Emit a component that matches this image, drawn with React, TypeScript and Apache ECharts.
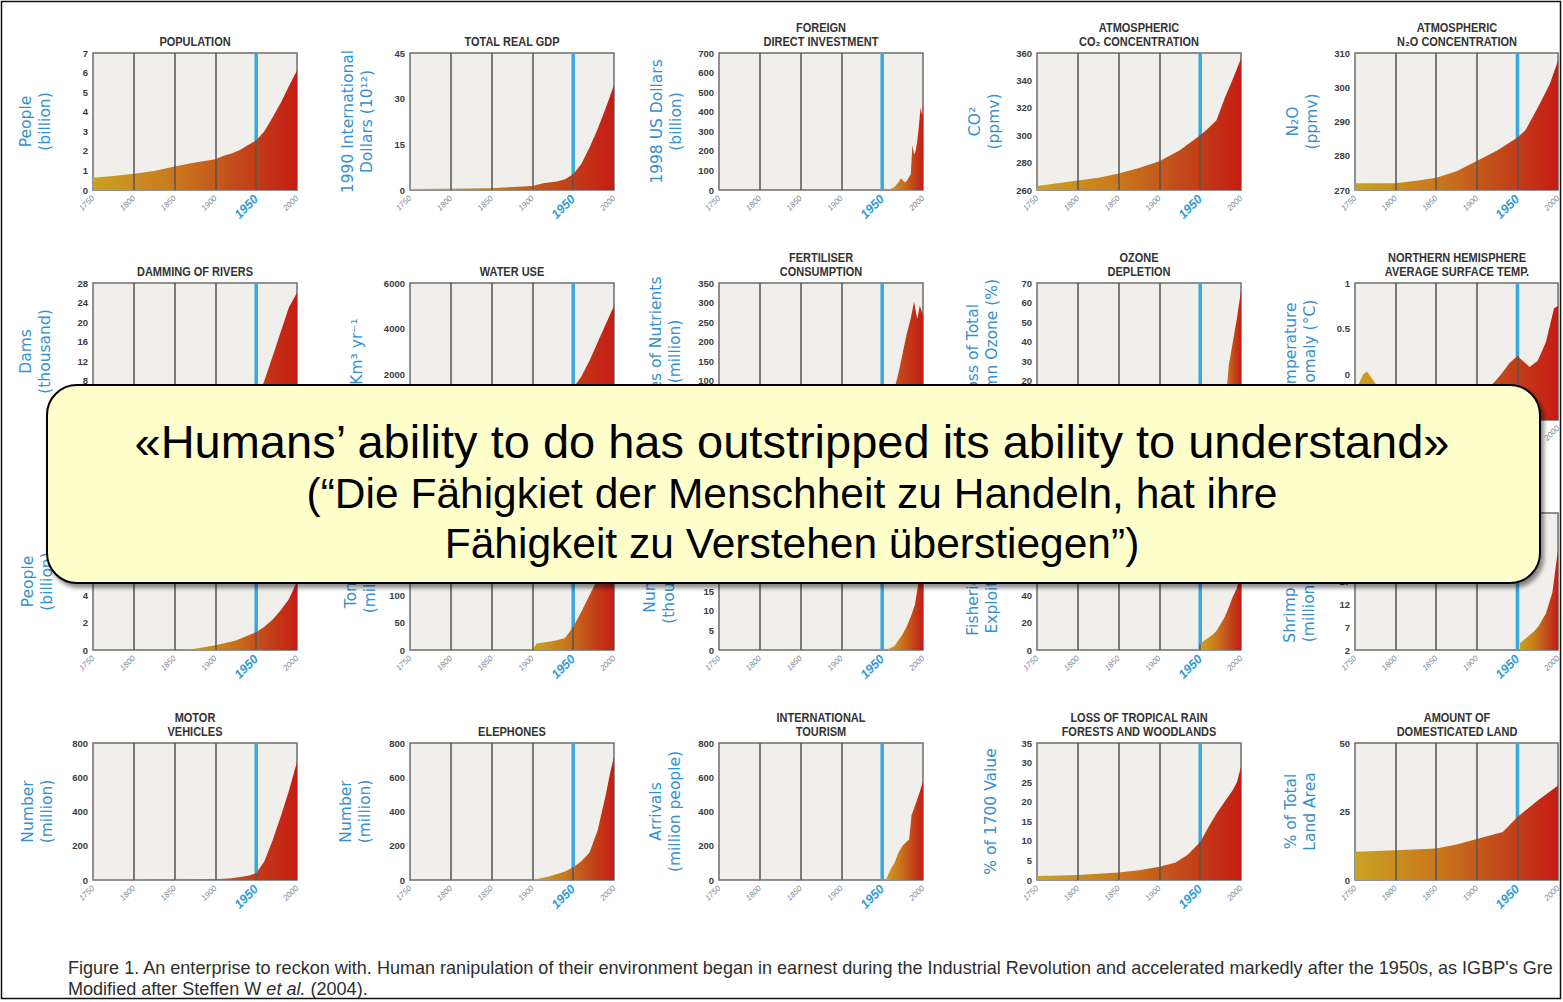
import React, { useEffect, useRef } from "react";
import * as echarts from "echarts";

// ---------- data ----------
const populationYears = [1750, 1775, 1800, 1825, 1850, 1875, 1900, 1910, 1920, 1930, 1940, 1950, 1960, 1970, 1980, 1990, 2000];
const populationValues = [0.62, 0.72, 0.83, 0.97, 1.2, 1.4, 1.57, 1.75, 1.86, 2.05, 2.3, 2.53, 3.0, 3.7, 4.45, 5.3, 6.1];

const gdpYears = [1750, 1800, 1850, 1870, 1900, 1913, 1930, 1940, 1950, 1960, 1970, 1980, 1990, 2000];
const gdpValues = [0.3, 0.4, 0.6, 0.9, 1.3, 2.2, 2.8, 3.5, 5.2, 8.5, 14, 20, 27, 34.5];

const fdiYears = [1955, 1960, 1965, 1970, 1973, 1976, 1979, 1982, 1985, 1987, 1989, 1991, 1993, 1995, 1997, 1999, 2000];
const fdiValues = [0, 5, 15, 40, 60, 45, 40, 60, 80, 230, 180, 200, 250, 330, 420, 380, 440];

const co2Years = [1750, 1775, 1800, 1825, 1850, 1875, 1900, 1925, 1950, 1960, 1970, 1980, 1990, 2000];
const co2Values = [263, 265, 267, 269, 272, 276, 281, 289, 300, 305, 311, 327, 341, 356];

const n2oYears = [1750, 1800, 1825, 1850, 1875, 1900, 1925, 1950, 1960, 1975, 1990, 2000];
const n2oValues = [272, 272, 272.7, 273.6, 275.5, 278.5, 281.5, 285.3, 287.5, 294, 301, 307.8];

const damsYears = [1750, 1850, 1900, 1930, 1950, 1960, 1970, 1980, 1990, 2000];
const damsValues = [0, 0.1, 0.5, 1.5, 4, 8, 13, 18, 23, 26];

const waterYears = [1750, 1800, 1850, 1900, 1925, 1950, 1960, 1970, 1980, 1990, 2000];
const waterValues = [100, 150, 250, 500, 850, 1400, 1900, 2600, 3400, 4200, 5000];

const fertiliserYears = [1900, 1920, 1940, 1950, 1955, 1960, 1965, 1970, 1975, 1980, 1985, 1989, 1991, 1993, 1996, 2000];
const fertiliserValues = [0, 2, 5, 14, 20, 30, 80, 120, 170, 220, 260, 302, 280, 258, 292, 268];

const ozoneYears = [1970, 1975, 1980, 1983, 1985, 1990, 1995, 2000];
const ozoneValues = [0, 0, 5, 18, 28, 40, 52, 66];

const tempYears = [1750, 1760, 1765, 1775, 1800, 1825, 1850, 1875, 1900, 1920, 1930, 1940, 1950, 1960, 1965, 1975, 1985, 1995, 2000];
const tempValues = [-0.2, 0.0, 0.03, -0.1, -0.25, -0.3, -0.2, -0.25, -0.2, -0.1, 0.0, 0.12, 0.2, 0.12, 0.08, 0.15, 0.35, 0.72, 0.75];

const urbanYears = [1860, 1875, 1900, 1925, 1950, 1960, 1970, 1980, 1990, 2000];
const urbanValues = [0, 0.1, 0.35, 0.7, 1.3, 1.7, 2.2, 2.9, 3.7, 5.0];

const paperYears = [1900, 1905, 1920, 1930, 1940, 1950, 1960, 1970, 1980, 1990, 2000];
const paperValues = [0, 12, 15, 18, 22, 42, 70, 100, 130, 180, 230];

const restaurantYears = [1955, 1960, 1965, 1970, 1975, 1980, 1985, 1990, 1995, 2000];
const restaurantValues = [0, 0.5, 1, 2.5, 4, 6, 8.5, 11.5, 18, 28];

const fisheriesYears = [1950, 1955, 1960, 1965, 1970, 1975, 1980, 1985, 1990, 1995, 2000];
const fisheriesValues = [4, 7, 9, 11, 14, 19, 24, 31, 39, 45, 58];

const shrimpYears = [1953, 1960, 1970, 1976, 1985, 1993, 1997, 2000];
const shrimpValues = [3.5, 4.5, 6, 7.2, 10, 14.6, 20, 24];

const motorYears = [1750, 1800, 1850, 1900, 1920, 1930, 1940, 1950, 1960, 1970, 1980, 1990, 2000];
const motorValues = [2, 3, 4, 5, 10, 18, 25, 40, 110, 230, 370, 520, 690];

const phoneYears = [1900, 1910, 1920, 1930, 1940, 1950, 1960, 1970, 1980, 1990, 1995, 2000];
const phoneValues = [2, 10, 20, 35, 50, 75, 110, 160, 290, 500, 620, 720];

const tourismYears = [1952, 1955, 1960, 1965, 1970, 1975, 1980, 1983, 1986, 1990, 1995, 2000];
const tourismValues = [0, 5, 60, 100, 160, 200, 225, 235, 380, 430, 500, 575];

const forestYears = [1750, 1800, 1850, 1875, 1900, 1920, 1935, 1950, 1960, 1970, 1980, 1990, 1995, 2000];
const forestValues = [1.0, 1.3, 1.9, 2.5, 3.4, 4.5, 6.5, 9.7, 13.5, 17, 20, 23, 25, 29];

const landYears = [1750, 1800, 1850, 1875, 1900, 1932, 1950, 1975, 2000];
const landValues = [10.3, 10.9, 11.5, 13, 15, 17.5, 23, 29, 34.5];

const panelTitles = [
  "POPULATION", "TOTAL REAL GDP", "FOREIGN\nDIRECT INVESTMENT", "ATMOSPHERIC\nCO₂ CONCENTRATION", "ATMOSPHERIC\nN₂O CONCENTRATION",
  "DAMMING OF RIVERS", "WATER USE", "FERTILISER\nCONSUMPTION", "OZONE\nDEPLETION", "NORTHERN HEMISPHERE\nAVERAGE SURFACE TEMP.",
  "URBAN POPULATION", "PAPER CONSUMPTION", "McDONALD'S\nRESTAURANTS", "FULLY EXPLOITED\nFISHERIES", "SHRIMP FARMING",
  "MOTOR\nVEHICLES", "ELEPHONES", "INTERNATIONAL\nTOURISM", "LOSS OF TROPICAL RAIN\nFORESTS AND WOODLANDS", "AMOUNT OF\nDOMESTICATED LAND",
];

const axisNames = [
  "People\n(billion)", "1990 International\nDollars (10¹²)", "1998 US Dollars\n(billion)", "CO²\n(ppmv)", "N₂O\n(ppmv)",
  "Dams\n(thousand)", "Km³ yr⁻¹", "Tonnes of Nutrients\n(million)", "Loss of Total\nColumn Ozone (%)", "Temperature\nAnomaly (°C)",
  "People\n(billion)", "Tonnes\n(million)", "Number\n(thousand)", "Fisheries Fully\nExploited (%)", "Shrimp Farming\n(million tonnes)",
  "Number\n(million)", "Number\n(million)", "Arrivals\n(million people)", "% of 1700 Value", "% of Total\nLand Area",
];

const yMins = [0, 0, 0, 260, 270, 0, 0, 0, 0, -0.5, 0, 0, 0, 0, 2, 0, 0, 0, 0, 0];
const yMaxs = [7, 45, 700, 360, 310, 28, 6000, 350, 70, 1, 10, 250, 35, 100, 32, 800, 800, 800, 35, 50];
const yIntervals = [1, 15, 100, 20, 10, 4, 2000, 50, 10, 0.5, 2, 50, 5, 20, 5, 200, 200, 200, 5, 25];

const calloutLines = [
  "«Humans’ ability to do has outstripped its ability to understand»",
  "(“Die Fähigkiet der Menschheit zu Handeln, hat ihre",
  "Fähigkeit zu Verstehen überstiegen”)",
];
const captionLine1 =
  "Figure 1. An enterprise to reckon with. Human ranipulation of their environment began in earnest during the Industrial Revolution and accelerated markedly after the 1950s, as IGBP's Gre";
const captionLine2 = ["Modified after Steffen W ", "et al.", " (2004)."];

const seriesYears = [
  populationYears, gdpYears, fdiYears, co2Years, n2oYears,
  damsYears, waterYears, fertiliserYears, ozoneYears, tempYears,
  urbanYears, paperYears, restaurantYears, fisheriesYears, shrimpYears,
  motorYears, phoneYears, tourismYears, forestYears, landYears,
];
const seriesValues = [
  populationValues, gdpValues, fdiValues, co2Values, n2oValues,
  damsValues, waterValues, fertiliserValues, ozoneValues, tempValues,
  urbanValues, paperValues, restaurantValues, fisheriesValues, shrimpValues,
  motorValues, phoneValues, tourismValues, forestValues, landValues,
];

// ---------- layout ----------
const colLefts = [93, 410, 719, 1037, 1355];
const rowTops = [53, 283, 513, 743];
const plotW = 204;
const plotH = 137;
const nameCenters = [58, 53, 53, 53, 53, 58, 53, 54, 55, 55, 56, 50, 60, 55, 56, 56, 55, 54, 46, 55];
const BOX = { x: 47, y: 385, w: 1493, h: 198 };

const SANS = '"Liberation Sans", Arial, sans-serif';
const VERDANA = '"DejaVu Sans", Verdana, sans-serif';

function valueAt(xs: number[], ys: number[], x: number): number {
  if (x < xs[0] || x > xs[xs.length - 1]) return NaN;
  for (let i = 1; i < xs.length; i++) {
    if (x <= xs[i]) {
      const t = (x - xs[i - 1]) / (xs[i] - xs[i - 1]);
      return ys[i - 1] + t * (ys[i] - ys[i - 1]);
    }
  }
  return ys[0];
}

function measure(text: string, font: string): number {
  const ctx = document.createElement("canvas").getContext("2d");
  if (!ctx) return text.length * 8;
  ctx.font = font;
  return ctx.measureText(text).width;
}

function underBox(px: number, py: number): boolean {
  return px > BOX.x && px < BOX.x + BOX.w && py > BOX.y + 2 && py < BOX.y + BOX.h - 2;
}

export default function App() {
  const ref = useRef<HTMLDivElement>(null);

  useEffect(() => {
    const chart = echarts.init(ref.current!, null, { renderer: "svg" });
    const grid: any[] = [];
    const xAxis: any[] = [];
    const yAxis: any[] = [];
    const series: any[] = [];
    const graphic: any[] = [];

    panelTitles.forEach((title, i) => {
      const r = Math.floor(i / 5);
      const c = i % 5;
      const left = colLefts[c];
      const top = rowTops[r];
      const yMin = yMins[i];
      const yMax = yMaxs[i];
      const xs = seriesYears[i];
      const ys = seriesValues[i];
      const nameLines = axisNames[i].split("\n").length;

      grid.push({
        left, top, width: plotW, height: plotH, show: true,
        backgroundColor: "#f1efeb", borderColor: "#6e6e6e", borderWidth: 1.5,
      });
      xAxis.push({
        gridIndex: i, type: "value", min: 1750, max: 2000, interval: 50,
        axisLine: { show: false }, axisTick: { show: false }, splitLine: { show: false },
        axisLabel: {
          rotate: 45, margin: 7,
          formatter: (v: number) => {
            const px = left + (plotW * (v - 1750)) / 250;
            if (underBox(px - 8, top + plotH + 14)) return "";
            return v === 1950 ? "{b|1950}" : "{a|" + v + "}";
          },
          rich: {
            a: { fontSize: 8, color: "#7d8893", fontStyle: "italic", fontFamily: SANS },
            b: { fontSize: 12.5, color: "#2f9bd9", fontWeight: "bold", fontStyle: "italic", fontFamily: SANS },
          },
        },
      });
      yAxis.push({
        gridIndex: i, type: "value", min: yMin, max: yMax, interval: yIntervals[i],
        axisLine: { show: false }, axisTick: { show: false }, splitLine: { show: false },
        axisLabel: {
          fontSize: 9.5, fontWeight: "bold", color: "#3c3c3c", margin: 5, fontFamily: SANS,
          formatter: (v: number) => {
            const py = top + plotH * (1 - (v - yMin) / (yMax - yMin));
            if (underBox(left - 10, py)) return "";
            return String(v);
          },
        },
        name: axisNames[i], nameLocation: "middle", nameRotate: 90,
        nameGap: nameCenters[i] - (nameLines * 19) / 2,
        nameTextStyle: { color: "#3590cf", fontSize: 15.5, lineHeight: 19, fontFamily: VERDANA, align: "center" },
      });

      // blue 1950 marker line (drawn below the area)
      series.push({
        type: "line", xAxisIndex: i, yAxisIndex: i, silent: true, z: 1,
        symbol: "none", data: [[1950, yMin], [1950, yMax]],
        lineStyle: { color: "#36a8df", width: 3.5 },
      });

      const v1950 = valueAt(xs, ys, 1950);
      const markData: any[] = [{ xAxis: 1800 }, { xAxis: 1850 }, { xAxis: 1900 }];
      if (!isNaN(v1950) && v1950 > yMin) {
        markData.push([{ coord: [1950, yMin] }, { coord: [1950, v1950] }]);
      }

      series.push({
        type: "line", xAxisIndex: i, yAxisIndex: i, silent: true, z: 2,
        symbol: "none", showSymbol: false,
        data: xs.map((x, k) => [x, ys[k]]),
        lineStyle: { width: 0, color: "#c32a18" },
        areaStyle: {
          origin: "start", opacity: 1,
          color: new echarts.graphic.LinearGradient(0, 0, 1, 0, [
            { offset: 0, color: "#caa222" },
            { offset: 0.4, color: "#c9781c" },
            { offset: 0.72, color: "#c2481a" },
            { offset: 1, color: "#c51d14" },
          ]),
        },
        markLine: {
          silent: true, symbol: ["none", "none"], label: { show: false },
          lineStyle: { color: "#555555", width: 1.5, type: "solid" },
          data: markData,
        },
      });

      if (!underBox(left + plotW / 2, top - 12)) {
        graphic.push({
          type: "text", x: left + plotW / 2, y: top - 5, z: 10, scaleX: 0.88,
          style: {
            text: title, fill: "#333333", fontSize: 12.5, fontWeight: "bold", fontFamily: SANS,
            align: "center", verticalAlign: "bottom", lineHeight: 14,
          },
        });
      }
    });

    // callout box
    graphic.push({
      type: "rect", z: 100,
      shape: { x: BOX.x, y: BOX.y, width: BOX.w, height: BOX.h, r: 30 },
      style: {
        fill: "#ffffcc", stroke: "#000000", lineWidth: 2,
        shadowBlur: 4, shadowOffsetX: 3, shadowOffsetY: 4, shadowColor: "rgba(0,0,0,0.45)",
      },
    });
    const calloutSizes = [47, 42.5, 42.5];
    const calloutYs = [441, 493, 543];
    calloutLines.forEach((t, k) => {
      graphic.push({
        type: "text", z: 101, x: 792, y: calloutYs[k],
        style: {
          text: t, fill: "#000000", fontSize: calloutSizes[k], fontFamily: SANS,
          align: "center", verticalAlign: "middle",
        },
      });
    });

    // caption (condensed to the reference's width)
    const capSize = 18;
    const capW = measure(captionLine1, `${capSize}px "Liberation Sans"`);
    const capScale = capW > 0 ? 1486 / capW : 0.85;
    graphic.push({
      type: "text", z: 50, x: 68, y: 968, scaleX: capScale,
      style: {
        text: captionLine1, fill: "#2e2e2e", fontSize: capSize, fontFamily: SANS,
        align: "left", verticalAlign: "middle",
      },
    });
    graphic.push({
      type: "text", z: 50, x: 68, y: 989, scaleX: capScale,
      style: {
        text: "{n|" + captionLine2[0] + "}{i|" + captionLine2[1] + "}{n|" + captionLine2[2] + "}",
        fill: "#2e2e2e", fontSize: capSize, fontFamily: SANS, align: "left", verticalAlign: "middle",
        rich: {
          n: { fontSize: capSize, fontFamily: SANS, fill: "#2e2e2e" },
          i: { fontSize: capSize, fontFamily: SANS, fontStyle: "italic", fill: "#2e2e2e" },
        },
      },
    });

    // outer frame
    graphic.push({
      type: "rect", z: 200,
      shape: { x: 1.5, y: 1.5, width: 1559, height: 997 },
      style: { fill: "none", stroke: "#111111", lineWidth: 1.5 },
    });

    chart.setOption({
      animation: false,
      backgroundColor: "#ffffff",
      textStyle: { fontFamily: SANS },
      grid, xAxis, yAxis, series, graphic,
    });

    return () => chart.dispose();
  }, []);

  return (
    <div
      ref={ref}
      style={{ position: "absolute", left: 0, top: 0, width: 1563, height: 1002, background: "#ffffff" }}
    />
  );
}
